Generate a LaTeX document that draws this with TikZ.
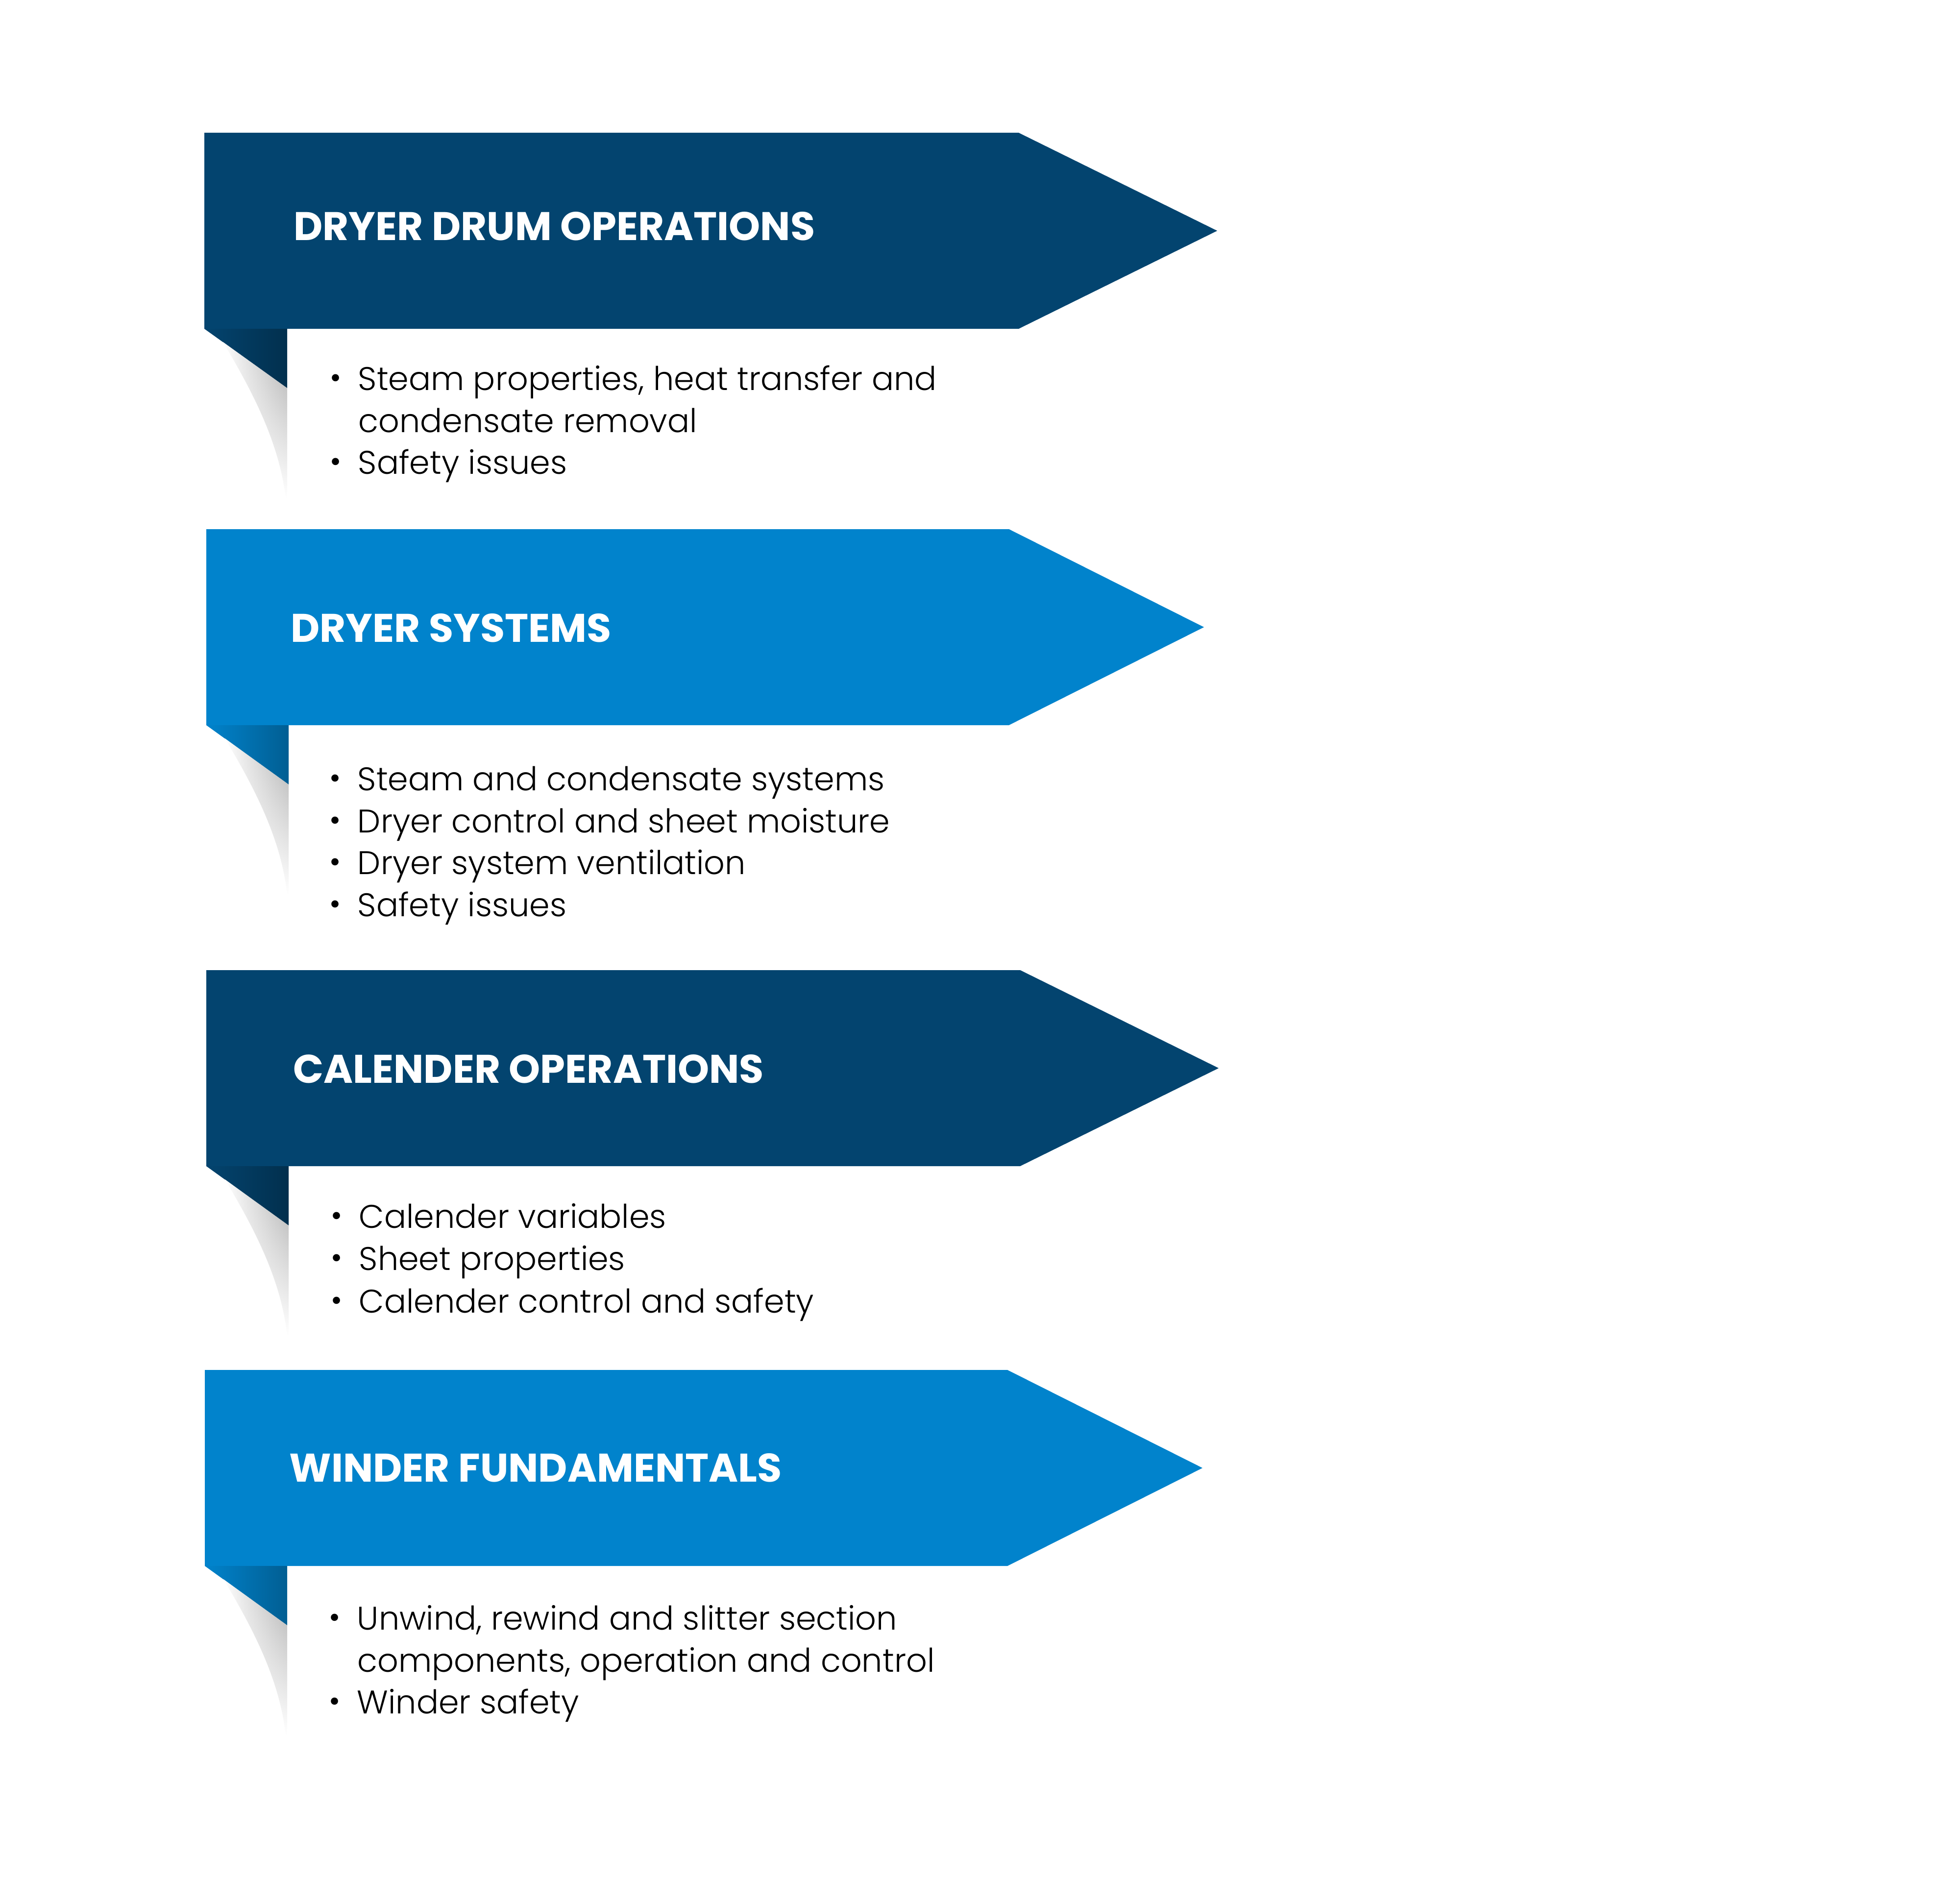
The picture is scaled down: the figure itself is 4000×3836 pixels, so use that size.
\documentclass[tikz,border=0pt]{standalone}
\usepackage{fontspec}
\setmainfont{Poppins}
\newfontfamily\lightfont{Poppins Light}
\usetikzlibrary{fadings}
\definecolor{DeepBlue}{RGB}{3,68,111}
\definecolor{BrightBlue}{RGB}{1,131,204}
\newcommand{\bul}{\makebox[2.875mm][l]{\raisebox{0.1ex}{\fontsize{9pt}{9pt}\selectfont\textbullet}}}

\begin{document}
\begin{tikzpicture}[x=0.05mm, y=-0.05mm,
  every node/.style={inner sep=0pt, anchor=base west},
  head/.style={font=\bfseries\fontsize{11.6pt}{14pt}\selectfont, text=white},
  item/.style={font=\lightfont\fontsize{9.5pt}{12pt}\selectfont, text=black},
  shadowfold/.style={left color=white, right color=black!32, path fading=south}]
\useasboundingbox (0,0) rectangle (4000,3836);

% Dryer drum operations
\fill[DeepBlue] (417,271) -- (2079,271) -- (2484,471) -- (2079,671) -- (417,671) -- cycle;
\shade[left color=DeepBlue, right color=DeepBlue!70!black] (417,671) -- (586,671) -- (586,792) -- cycle;
\shade[shadowfold] (455,698) .. controls (510,790) and (570,900) .. (583,1017) -- (586,1017) -- (586,792) -- cycle;
\node[head] (drum) at (598,491) {DRYER DRUM OPERATIONS};
\node[item] (drum1) at (672,796) {\bul Steam properties, heat transfer and};
\node[item] (drum1b) at (730,882) {condensate removal};
\node[item] (drum2) at (672,967) {\bul Safety issues};

% Dryer systems
\fill[BrightBlue] (421,1080) -- (2059,1080) -- (2457,1280) -- (2059,1480) -- (421,1480) -- cycle;
\shade[left color=BrightBlue, right color=BrightBlue!72!black] (421,1480) -- (589,1480) -- (589,1601) -- cycle;
\shade[shadowfold] (459,1507) .. controls (514,1599) and (574,1709) .. (586,1826) -- (589,1826) -- (589,1601) -- cycle;
\node[head] (sys) at (592,1310) {DRYER SYSTEMS};
\node[item] (sys1) at (671,1613) {\bul Steam and condensate systems};
\node[item] (sys2) at (671,1699) {\bul Dryer control and sheet moisture};
\node[item] (sys3) at (671,1784) {\bul Dryer system ventilation};
\node[item] (sys4) at (671,1870) {\bul Safety issues};

% Calender operations
\fill[DeepBlue] (421,1980) -- (2082,1980) -- (2487,2180) -- (2082,2380) -- (421,2380) -- cycle;
\shade[left color=DeepBlue, right color=DeepBlue!70!black] (421,2380) -- (589,2380) -- (589,2501) -- cycle;
\shade[shadowfold] (459,2407) .. controls (514,2499) and (574,2609) .. (586,2726) -- (589,2726) -- (589,2501) -- cycle;
\node[head] (cal) at (597,2210) {CALENDER OPERATIONS};
\node[item] (cal1) at (674,2506) {\bul Calender variables};
\node[item] (cal2) at (674,2592) {\bul Sheet properties};
\node[item] (cal3) at (674,2679) {\bul Calender control and safety};

% Winder fundamentals
\fill[BrightBlue] (418,2796) -- (2056,2796) -- (2454,2996) -- (2056,3196) -- (418,3196) -- cycle;
\shade[left color=BrightBlue, right color=BrightBlue!72!black] (418,3196) -- (586,3196) -- (586,3317) -- cycle;
\shade[shadowfold] (456,3223) .. controls (511,3315) and (571,3425) .. (583,3542) -- (586,3542) -- (586,3317) -- cycle;
\node[head] (wind) at (589,3024) {WINDER FUNDAMENTALS};
\node[item] (wind1) at (670,3326) {\bul Unwind, rewind and slitter section};
\node[item] (wind1b) at (728,3412) {components, operation and control};
\node[item] (wind2) at (670,3497) {\bul Winder safety};
\end{tikzpicture}
\end{document}
